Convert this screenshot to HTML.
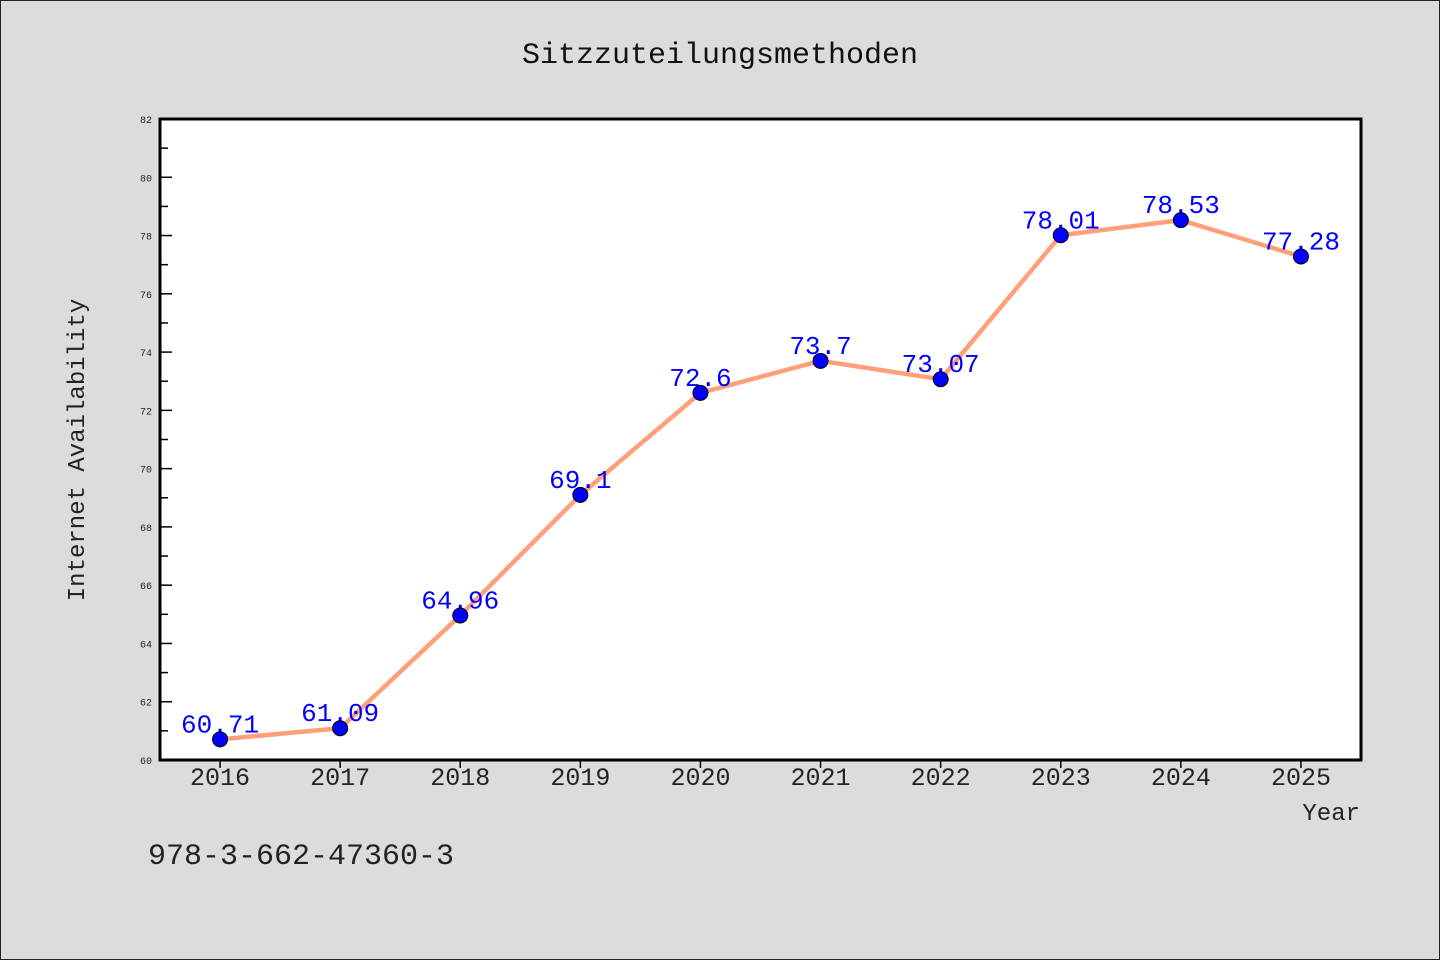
<!DOCTYPE html>
<html><head><meta charset="utf-8"><style>
html,body{margin:0;padding:0;background:#dcdcdc;}
svg{display:block;}
text{font-family:"Liberation Mono",monospace;}
</style></head><body>
<svg id="chart" width="1440" height="960" viewBox="0 0 1440 960" xmlns="http://www.w3.org/2000/svg">
<rect x="0.5" y="0.5" width="1439" height="959" fill="#dcdcdc" stroke="#222" stroke-width="1"/>
<text x="720" y="63" font-size="30" text-anchor="middle" fill="#111">Sitzzuteilungsmethoden</text>
<rect x="160" y="119" width="1201" height="641" fill="#fff"/>
<g id="axes"></g>
<g id="series"></g>
<rect x="160" y="119" width="1201" height="641" fill="none" stroke="#000" stroke-width="3"/>
<text transform="translate(84,450) rotate(-90)" font-size="24" text-anchor="middle" fill="#222">Internet Availability</text>
<text x="1360" y="820" font-size="24" text-anchor="end" fill="#222">Year</text>
<text x="148" y="864" font-size="30" fill="#222">978-3-662-47360-3</text>
</svg>
<script>
const years=[2016,2017,2018,2019,2020,2021,2022,2023,2024,2025];
const values=[60.71,61.09,64.96,69.1,72.6,73.7,73.07,78.01,78.53,77.28];
const labels=["60.71","61.09","64.96","69.1","72.6","73.7","73.07","78.01","78.53","77.28"];
const yTicks=[60,62,64,66,68,70,72,74,76,78,80,82];
const NS="http://www.w3.org/2000/svg";
const x0=160,x1=1361,y0=760,y1=119,xmin=2015.5,xmax=2025.5,ymin=60,ymax=82;
const X=v=>x0+(v-xmin)/(xmax-xmin)*(x1-x0);
const Y=v=>y0-(v-ymin)/(ymax-ymin)*(y0-y1);
function mk(t,a,p){const e=document.createElementNS(NS,t);for(const k in a)e.setAttribute(k,a[k]);p.appendChild(e);return e;}
const ax=document.getElementById('axes'),se=document.getElementById('series');
yTicks.forEach((t,i)=>{
 const l=mk('line',{x1:x0,x2:x0+12,y1:Y(t),y2:Y(t),stroke:'#000','stroke-width':1.5},ax);
 
 
 const tx=mk('text',{x:x0-8,y:Y(t)+4,'font-size':10,'text-anchor':'end',fill:'#222'},ax);
 tx.textContent=t;
 
 
 if(i<yTicks.length-1){const m=(t+yTicks[i+1])/2;
  const ml=mk('line',{x1:x0,x2:x0+8,y1:Y(m),y2:Y(m),stroke:'#000','stroke-width':1.5},ax);
  
  }
});
years.forEach(yr=>{
 const l=mk('line',{x1:X(yr),x2:X(yr),y1:y0,y2:y0+8,stroke:'#000','stroke-width':1.5},ax);
 
 
 const tx=mk('text',{x:X(yr),y:y0+25,'font-size':25,'text-anchor':'middle',fill:'#222'},ax);
 tx.textContent=yr;
 
 
});
const pl=mk('polyline',{points:years.map((yr,i)=>X(yr)+','+Y(values[i])).join(' '),fill:'none',stroke:'#ffa07a','stroke-width':4.5,'stroke-linejoin':'round'},se);


years.forEach((yr,i)=>{
 const tx=mk('text',{x:X(yr),y:Y(values[i])-7,'font-size':26,'text-anchor':'middle',fill:'#0000ff'},se);
 tx.textContent=labels[i];
 
 
});
years.forEach((yr,i)=>{
 const c=mk('circle',{cx:X(yr),cy:Y(values[i]),r:7.5,fill:'#0000ff',stroke:'#000','stroke-width':1},se);
 
 
});
</script>
</body></html>
